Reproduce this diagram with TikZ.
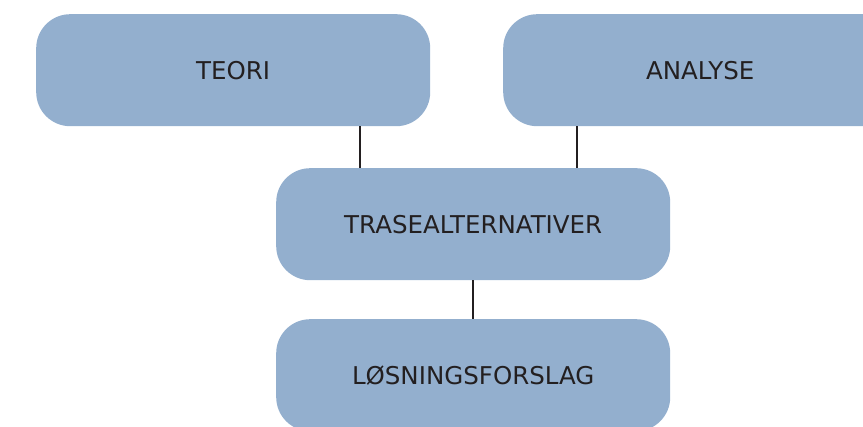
\documentclass[tikz,border=0pt]{standalone}
\usepackage{fontspec}
\setmainfont{DejaVu Sans}
\usepackage{tikz}

\definecolor{boksblaa}{HTML}{93AFCE}
\definecolor{mork}{HTML}{231F20}

\tikzset{
  blokk/.style={rectangle, rounded corners=34pt, fill=boksblaa, text=mork,
    minimum width=394pt, minimum height=112pt, inner sep=0pt, anchor=north west,
    font=\fontsize{24.5}{28}\selectfont},
  strek/.style={draw=mork, line width=2pt}
}

\begin{document}
\begin{tikzpicture}[x=1pt, y=1pt]
      \clip (0,0) rectangle (863,-427);
      \node[blokk] (teori) at (36,-14) {TEORI};
      \node[blokk] (analyse) at (503,-14) {ANALYSE};
      \node[blokk] (trase) at (276,-168) {TRASEALTERNATIVER};
      \node[blokk] (losning) at (276,-319) {LØSNINGSFORSLAG};
      \draw[strek] ([xshift=84pt]trase.north west) -- ([xshift=84pt]trase.north west |- teori.south);
      \draw[strek] ([xshift=74pt]analyse.south west) -- ([xshift=74pt]analyse.south west |- trase.north);
      \draw[strek] (trase.south) -- (losning.north);
    \end{tikzpicture}
\end{document}
